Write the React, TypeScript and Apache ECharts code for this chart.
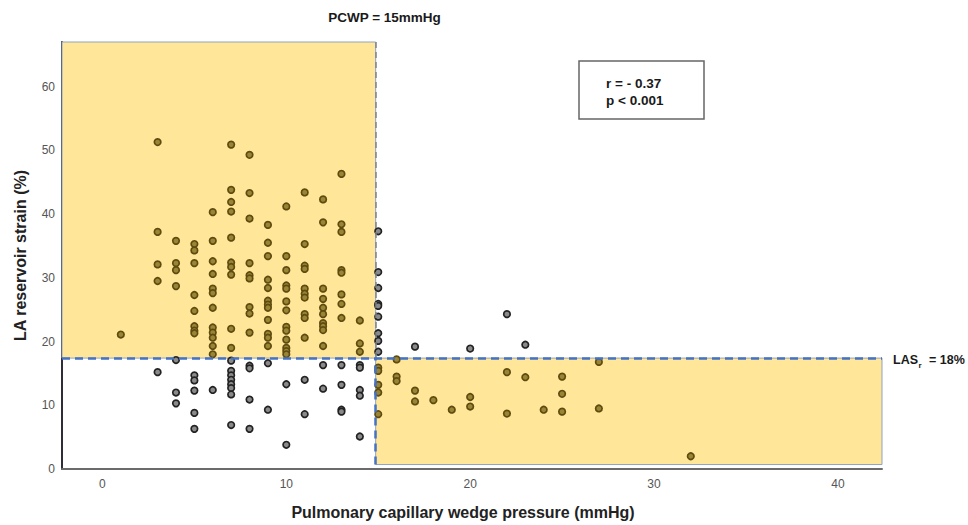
import React, { useEffect, useRef } from "react";
import * as echarts from "echarts";

// PCWP levels (mmHg) and the LA reservoir strain (%) values observed at each level
const pcwpLevels = [1, 3, 4, 5, 6, 7, 8, 9, 10, 11, 12, 13, 14, 15, 16, 17, 18, 19, 20, 22, 23, 24, 25, 27, 32];
const strainByLevel = [
  [21.1],
  [51.3, 37.2, 32.1, 29.5, 15.2],
  [35.8, 32.3, 31.2, 28.7, 17.1, 12.0, 10.3],
  [35.3, 34.3, 32.3, 27.3, 24.8, 22.4, 21.7, 21.3, 14.7, 13.9, 12.3, 8.8, 6.3],
  [40.3, 35.8, 32.6, 30.6, 28.3, 27.6, 25.3, 22.2, 21.4, 20.6, 19.3, 18.0, 12.4],
  [50.9, 43.8, 41.9, 40.4, 36.3, 32.4, 31.7, 30.5, 22.0, 19.0, 17.0, 15.4, 14.7, 14.0, 13.3, 12.7, 11.7, 6.9],
  [49.3, 43.3, 39.3, 32.3, 30.4, 29.9, 25.4, 24.4, 21.4, 16.2, 15.8, 10.9, 6.3],
  [38.3, 35.5, 33.4, 29.7, 28.4, 26.4, 25.8, 25.3, 23.4, 21.2, 20.6, 19.3, 16.6, 9.3],
  [41.2, 33.4, 31.2, 28.8, 28.3, 26.3, 24.9, 22.3, 21.7, 20.3, 19.0, 18.5, 18.0, 13.3, 3.8],
  [43.4, 35.3, 31.9, 31.4, 28.3, 27.5, 26.9, 24.3, 23.7, 20.6, 14.0, 8.6],
  [42.3, 38.7, 28.3, 26.7, 25.3, 24.3, 22.9, 22.4, 21.8, 19.3, 16.3, 12.6],
  [46.3, 38.4, 37.2, 31.2, 30.8, 27.4, 25.9, 23.7, 16.3, 13.2, 9.3, 9.0],
  [23.3, 19.7, 18.4, 16.3, 15.9, 12.4, 11.5, 5.1],
  [37.3, 30.9, 28.4, 25.9, 25.6, 23.9, 21.3, 20.1, 18.4, 15.9, 15.4, 13.2, 12.0, 8.6],
  [17.2, 14.5, 13.8],
  [19.2, 12.3, 10.6],
  [10.8],
  [9.3],
  [18.9, 11.3, 9.8],
  [24.3, 15.2, 8.7],
  [19.5, 14.4],
  [9.3],
  [14.5, 11.8, 9.0],
  [16.8, 9.5],
  [2.0],
];

// Axis ranges and ticks
const xRange = [-2.2, 42.4];
const yRange = [0, 67];
const xTicks = [0, 10, 20, 30, 40];
const yTicks = [0, 10, 20, 30, 40, 50, 60];

// Cut-offs as drawn
const pcwpCut = 14.86;
const strainCut = 17.4;
const lowerBoxBottom = 0.7;

const FONT = '"Liberation Sans", Arial, sans-serif';

export default function App() {
  const ref = useRef<HTMLDivElement>(null);

  useEffect(() => {
    if (!ref.current) return;
    const chart = echarts.init(ref.current, undefined, { renderer: "svg" });

    const allPoints: number[][] = [];
    pcwpLevels.forEach((x, i) => {
      strainByLevel[i].forEach((y) => allPoints.push([x, y]));
    });
    const inZone = (p: number[]) =>
      (p[0] < pcwpCut && p[1] > strainCut) || (p[0] > pcwpCut && p[1] < strainCut);
    const zonePoints = allPoints.filter(inZone);
    const otherPoints = allPoints.filter((p) => !inZone(p));

    const textStyle = (text: string, size: number, align: string) => ({
      text,
      font: `bold ${size}px ${FONT}`,
      fill: "#1a1a1a",
      textAlign: align,
      textVerticalAlign: "middle",
    });

    const option: any = {
      animation: false,
      backgroundColor: "#ffffff",
      grid: { left: 62, right: 86, top: 42, bottom: 54 },
      xAxis: {
        type: "value",
        min: xRange[0],
        max: xRange[1],
        splitLine: { show: false },
        axisTick: { show: false },
        axisLine: { show: true, onZero: false, lineStyle: { color: "#6b6b6b", width: 2 } },
        axisLabel: {
          customValues: xTicks,
          color: "#555",
          fontSize: 12,
          margin: 9,
          fontFamily: FONT,
        },
        name: "Pulmonary capillary wedge pressure (mmHg)",
        nameLocation: "middle",
        nameGap: 35,
        nameTextStyle: {
          fontSize: 16,
          fontWeight: "bold",
          color: "#222",
          fontFamily: FONT,
          padding: [0, 18, 0, 0],
        },
      },
      yAxis: {
        type: "value",
        min: yRange[0],
        max: yRange[1],
        splitLine: { show: false },
        axisTick: { show: false },
        axisLine: { show: true, onZero: false, lineStyle: { color: "#2e2e38", width: 2 } },
        axisLabel: {
          customValues: yTicks,
          color: "#555",
          fontSize: 12,
          margin: 7,
          fontFamily: FONT,
        },
        name: "LA reservoir strain (%)",
        nameLocation: "middle",
        nameGap: 34,
        nameRotate: 90,
        nameTextStyle: {
          fontSize: 16,
          fontWeight: "bold",
          color: "#222",
          fontFamily: FONT,
        },
      },
      series: [
        {
          type: "scatter",
          name: "zones",
          data: [],
          z: 1,
          silent: true,
          markArea: {
            silent: true,
            itemStyle: { color: "#FFE699", borderColor: "#8FA3C8", borderWidth: 1 },
            data: [
              [
                { xAxis: xRange[0], yAxis: strainCut },
                { xAxis: pcwpCut, yAxis: yRange[1] },
              ],
              [
                { xAxis: pcwpCut, yAxis: lowerBoxBottom },
                { xAxis: xRange[1], yAxis: strainCut },
              ],
            ],
          },
          markLine: {
            silent: true,
            symbol: ["none", "none"],
            label: { show: false },
            data: [
              [
                { coord: [pcwpCut, strainCut], lineStyle: { color: "#7a8596", width: 1.5, type: [6, 4] } },
                { coord: [pcwpCut, yRange[1]] },
              ],
              [
                { coord: [xRange[0], strainCut], lineStyle: { color: "#4472C4", width: 2.5, type: [8, 5] } },
                { coord: [xRange[1], strainCut] },
              ],
              [
                { coord: [pcwpCut, lowerBoxBottom], lineStyle: { color: "#4472C4", width: 2.5, type: [8, 5] } },
                { coord: [pcwpCut, strainCut] },
              ],
            ],
          },
        },
        {
          type: "scatter",
          name: "other",
          data: otherPoints,
          z: 3,
          symbol: "circle",
          symbolSize: 6.5,
          itemStyle: { color: "#8a8a8a", borderColor: "#222222", borderWidth: 1.7, opacity: 1 },
        },
        {
          type: "scatter",
          name: "zone",
          data: zonePoints,
          z: 3,
          symbol: "circle",
          symbolSize: 6.5,
          itemStyle: { color: "#9A8535", borderColor: "#5E4B10", borderWidth: 1.7, opacity: 1 },
        },
      ],
      graphic: [
        { type: "text", x: 384.5, y: 17, style: textStyle("PCWP = 15mmHg", 13.5, "center") },
        {
          type: "rect",
          shape: { x: 579, y: 61, width: 125, height: 58 },
          style: { fill: "#ffffff", stroke: "#666666", lineWidth: 1.5 },
        },
        { type: "text", x: 606, y: 83, style: textStyle("r = - 0.37", 13.5, "left") },
        { type: "text", x: 606, y: 100, style: textStyle("p < 0.001", 13.5, "left") },
        { type: "text", x: 893, y: 360, style: textStyle("LAS", 12.5, "left") },
        { type: "text", x: 918.5, y: 365, style: textStyle("r", 8, "left") },
        { type: "text", x: 929, y: 360, style: textStyle("= 18%", 12.5, "left") },
      ],
    };

    chart.setOption(option);
    return () => chart.dispose();
  }, []);

  return (
    <div
      ref={ref}
      style={{ position: "fixed", left: 0, top: 0, width: 968, height: 525, background: "#fff" }}
    />
  );
}
